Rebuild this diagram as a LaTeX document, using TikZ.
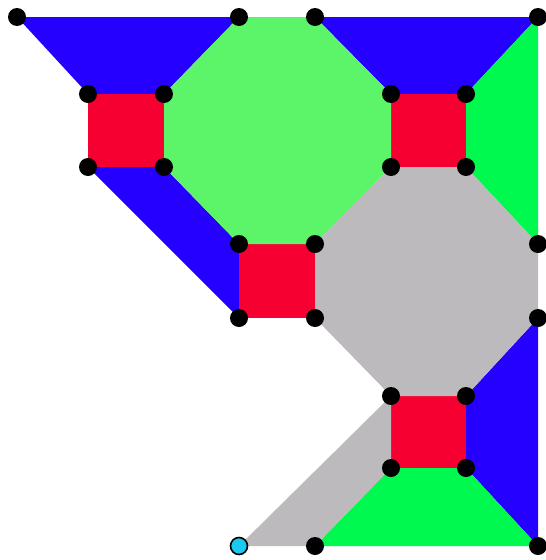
\documentclass[tikz,border=0pt]{standalone}
\usepackage{xcolor}
\usepackage{tikz}
\usetikzlibrary{calc}

\definecolor{tileblue}{HTML}{2600FF}
\definecolor{tilered}{HTML}{F50030}
\definecolor{tilelime}{HTML}{5CF56A}
\definecolor{tilegreen}{HTML}{00F94F}
\definecolor{tilegray}{HTML}{BCBABC}
\definecolor{tilecyan}{HTML}{1AC8F0}

\begin{document}
\begin{tikzpicture}[x={(1pt,0pt)}, y={(0pt,-1pt)},
    vtx/.style={circle, fill=black, inner sep=0pt, minimum size=18pt},
    root/.style={vtx, fill=tilecyan, draw=black, line width=1.6pt, minimum size=17pt}]
\useasboundingbox (0,0) rectangle (546,560);
% lattice points, columns a..h and rows 1..8
\foreach \n/\x/\y in {a1/17/17, d1/239/17, e1/315/17, h1/538/17,
                      b2/88/94, c2/164/94, f2/391/94, g2/466/94,
                      b3/88/167, c3/164/167, f3/391/167, g3/466/167,
                      d4/239/244, e4/315/244, h4/538/244,
                      d5/239/318, e5/315/318, h5/538/318,
                      f6/391/396, g6/466/396,
                      f7/391/468, g7/466/468,
                      d8/239/546, e8/315/546, h8/538/546}
  \coordinate (\n) at (\x,\y);
% faces
\fill[tileblue] (a1) -- (d1) -- (c2) -- (b2) -- cycle;
\fill[tileblue] (b3) -- (c3) -- (d4) -- (d5) -- cycle;
\fill[tileblue] (e1) -- (h1) -- (g2) -- (f2) -- cycle;
\fill[tileblue] (h5) -- (h8) -- (g7) -- (g6) -- cycle;
\fill[tilered] (b2) rectangle (c3);
\fill[tilered] (d4) rectangle (e5);
\fill[tilered] (f2) rectangle (g3);
\fill[tilered] (f6) rectangle (g7);
\fill[tilelime] (d1) -- (e1) -- (f2) -- (f3) -- (e4) -- (d4) -- (c3) -- (c2) -- cycle;
\fill[tilegreen] (g2) -- (h1) -- (h4) -- (g3) -- cycle;
\fill[tilegreen] (f7) -- (g7) -- (h8) -- (e8) -- cycle;
\fill[tilegray] (f3) -- (g3) -- (h4) -- (h5) -- (g6) -- (f6) -- (e5) -- (e4) -- cycle;
\fill[tilegray] (d8) -- (e8) -- (f7) -- (f6) -- cycle;
% vertices
\foreach \n in {a1,d1,e1,h1,b2,c2,f2,g2,b3,c3,f3,g3,d4,e4,h4,d5,e5,h5,f6,g6,f7,g7,e8,h8}
  \node[vtx] (v-\n) at (\n) {};
\node[root] (v-d8) at (d8) {};
\end{tikzpicture}
\end{document}
